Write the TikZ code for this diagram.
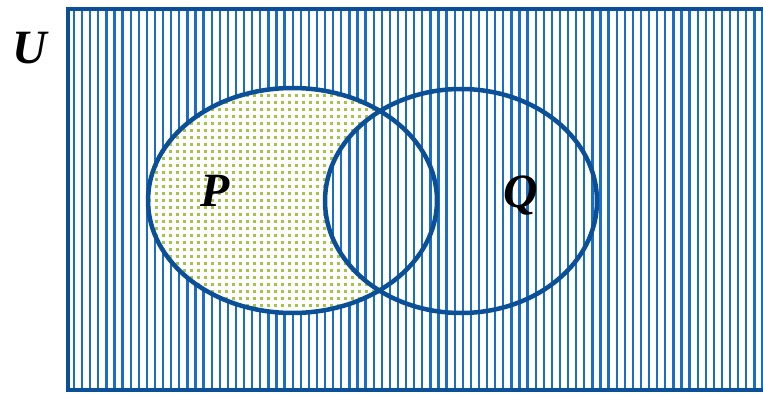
\documentclass[tikz,border=0pt]{standalone}
\usepackage{fontspec}
\setmainfont{Liberation Serif}
\definecolor{vennBorder}{HTML}{0B4F97}
\definecolor{vennStripe}{HTML}{1B6EC2}
\definecolor{vennDot}{HTML}{A5C34A}
\tikzset{
  stripe/.style={draw=vennStripe, line width=1.6pt},
  border/.style={draw=vennBorder, line width=2.8pt},
  setline/.style={draw=vennBorder, line width=3.2pt},
  setlabel/.style={font=\fontsize{34}{34}\selectfont\bfseries\itshape,
        anchor=base, inner sep=0pt}
}
\begin{document}
\begin{tikzpicture}[x=0.025cm, y=-0.025cm]
\useasboundingbox (0,0) rectangle (763,394);
\clip (0,0) rectangle (763,394);

% stripes over the universe
\begin{scope}
  \clip (68,9) rectangle (790,390);
  \foreach \i in {0,...,86}
    \draw[stripe] ({74+8.1*\i},0) -- ++(0,394);
\end{scope}

% dotted part of P
\begin{scope}
  \clip (292.5,200.5) ellipse [x radius=144.5, y radius=112.5];
  \fill[white] (140,80) rectangle (445,320);
  \foreach \x in {0,...,42}
    \foreach \y in {0,...,33}
      \fill[vennDot] ({148+7*\x},{87+7*\y}) rectangle ++(2.6,2.6);
\end{scope}

% stripes again inside Q
\begin{scope}
  \clip (461,201) ellipse [x radius=136, y radius=112];
  \fill[white] (320,85) rectangle (600,318);
  \foreach \i in {0,...,86}
    \draw[stripe] ({74+8.1*\i},0) -- ++(0,394);
\end{scope}

\draw[border] (68,9) rectangle (790,390);
\draw[setline] (292.5,200.5) ellipse [x radius=144.5, y radius=112.5];
\draw[setline] (461,201) ellipse [x radius=136, y radius=112];

\node[setlabel] (labU) at (30,64) {U};
\node[setlabel] (labP) at (215,206) {P};
\node[setlabel] (labQ) at (521,207) {Q};
\end{tikzpicture}
\end{document}
